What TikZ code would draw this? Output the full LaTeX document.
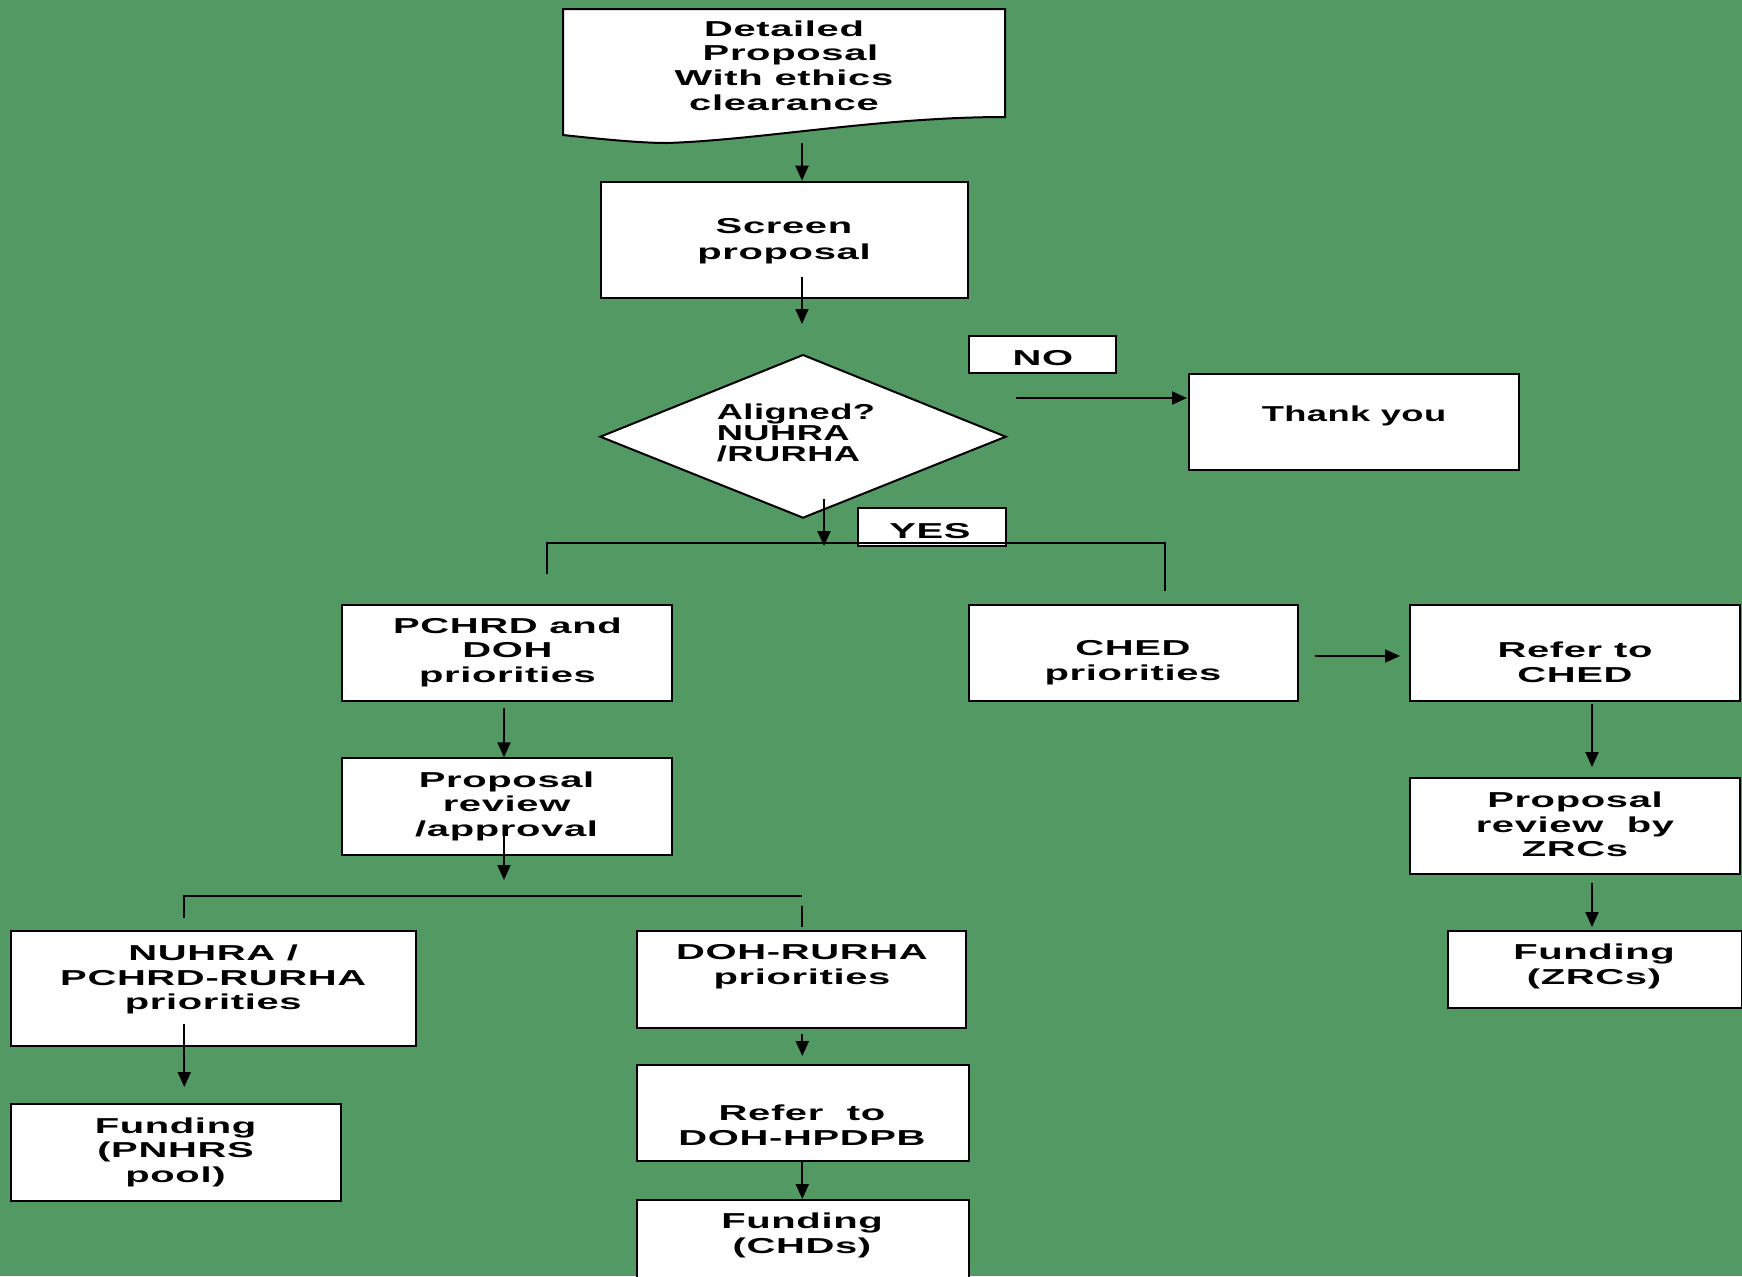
\documentclass[tikz,border=0pt]{standalone}
\usepackage{fontspec}
\setmainfont{Liberation Sans}[FakeStretch=1.85,LetterSpace=3]
\newfontfamily\diafont{Liberation Sans}[FakeStretch=1.68,LetterSpace=2]
\usetikzlibrary{arrows.meta,calc}
\definecolor{bggreen}{RGB}{82,153,99}
\begin{document}
\begin{tikzpicture}[x=0.5pt,y=-0.5pt,
  box/.style={draw=black, line width=1pt, fill=white, inner sep=0pt},
  wh/.style 2 args={minimum width=#1*0.5pt, minimum height=#2*0.5pt},
  txt/.style={font=\bfseries\fontsize{10.8}{12.3}\selectfont, align=center, inner sep=0pt, yshift=-1.2pt},
  narrowtxt/.style={font=\diafont\bfseries\fontsize{10.8}{10.5}\selectfont, inner sep=0pt},
  arr/.style={line width=1pt, -{Triangle[length=7.5pt,width=6.5pt]}},
  ln/.style={line width=1pt}]
\clip (0,0) rectangle (1742,1276);
\fill[bggreen] (0,0) rectangle (1742,1276);

% document shape
\draw[line width=1pt, fill=white] (563,9) -- (1005,9) -- (1005,117)
  .. controls (880,117) and (760,140) .. (667,143)
  .. controls (640,143) and (600,139) .. (563,135) -- cycle;
\node[txt] (detailT) at (784,63) {Detailed\\\hspace*{6.5pt}Proposal\\With ethics\\clearance};

% boxes
\node[box, wh={367}{116}] (screen) at (784.2,239.7) {};
\node[txt, font=\bfseries\fontsize{10.8}{13.2}\selectfont] (screenT) at (784,239) {Screen\\proposal};

\draw[line width=1pt, fill=white] (600.4,436.7) coordinate (dL) -- (803,355) coordinate (dT)
  -- (1005.7,436.7) coordinate (dR) -- (803,517.7) coordinate (dB) -- cycle;
\node[narrowtxt, align=left] (diaT) at (796,433) {Aligned?\\NUHRA\\/RURHA};

\node[box, wh={147}{37.6}] (no) at (1042.2,354.5) {};
\node[txt] (noT) at (1043,355.5) {NO};
\node[box, wh={330}{96}] (thank) at (1354,422) {};
\node[narrowtxt] (thankT) at (1354,416) {Thank you};
\node[box, wh={147.8}{37.7}] (yes) at (931.8,527.2) {};
\node[txt] (yesT) at (930,529) {YES};

\node[box, wh={330}{96.6}] (pchrd) at (507,653) {};
\node[txt] (pchrdT) at (507.5,650) {PCHRD and\\DOH\\priorities};
\node[box, wh={329}{96.6}] (ched) at (1133.2,653) {};
\node[txt] (chedT) at (1133,660) {CHED\\priorities};
\node[box, wh={329.7}{96.3}] (refched) at (1575.2,652.9) {};
\node[txt] (refchedT) at (1575,660) {Refer to\\CHED};

\node[box, wh={330}{96.7}] (review) at (507.3,806.7) {};
\node[txt] (reviewT) at (506.6,803.8) {Proposal\\review\\/approval};
\node[box, wh={329.7}{96.3}] (zrcrev) at (1575.2,825.9) {};
\node[txt] (zrcrevT) at (1575,822) {Proposal\\review~~by\\ZRCs};
\node[box, wh={294}{77}] (fundzrc) at (1594.7,969.2) {};
\node[txt] (fundzrcT) at (1594,964) {Funding\\(ZRCs)};

\node[box, wh={405}{115.3}] (nuhra) at (213.3,988.4) {};
\node[txt] (nuhraT) at (213.3,977) {NUHRA /\\PCHRD-RURHA\\priorities};
\node[box, wh={329.7}{97}] (doh) at (801.4,979.2) {};
\node[txt] (dohT) at (802,964.3) {DOH-RURHA\\priorities};
\node[box, wh={329.8}{97}] (pnhrs) at (175.7,1152.2) {};
\node[txt] (pnhrsT) at (175.5,1149.8) {Funding\\(PNHRS\\pool)};
\node[box, wh={332.2}{95.7}] (refdoh) at (802.6,1113.2) {};
\node[txt] (refdohT) at (802,1123) {Refer~~to\\DOH-HPDPB};
\node[box, wh={332.2}{100}] (chds) at (802.6,1250) {};
\node[txt] (chdsT) at (802,1233) {Funding\\(CHDs)};

% connectors
\coordinate (c1) at (802,143);
\draw[arr] (c1) -- (c1 |- screen.north);
\coordinate (c2a) at (802,276.7); \coordinate (c2b) at (802,324);
\draw[arr] (c2a) -- (c2b);
\coordinate (c3a) at (824,499); \coordinate (c3b) at (824,546);
\draw[arr] (c3a) -- (c3b);
\coordinate (no1) at (1016,398); \coordinate (no2) at (1187,398);
\draw[arr] (no1) -- (no2);
% yes branch
\coordinate (yl) at (546.7,574.3); \coordinate (yr) at (1165,590.7);
\draw[ln] (yl) -- (546.7,542.7) -- (1165,542.7) -- (yr);
\coordinate (ch1) at (1314.7,656); \coordinate (ch2) at (1400,656);
\draw[arr] (ch1) -- (ch2);
\coordinate (p1) at (504,707.7);
\draw[arr] (p1) -- (p1 |- review.north);
\coordinate (r1) at (504,835); \coordinate (r2) at (504,880);
\draw[arr] (r1) -- (r2);
% split
\coordinate (sl) at (184.3,918); \coordinate (sr) at (802.3,895.7);
\draw[ln] (sl) -- (184.3,895.7) -- (sr);
\draw[ln] (802.3,905.7) -- (802.3,927.3);
\coordinate (n1) at (184.3,1024); \coordinate (n2) at (184.3,1087);
\draw[arr] (n1) -- (n2);
\coordinate (dh1) at (802.3,1034); \coordinate (dh2) at (802.3,1056);
\draw[arr] (dh1) -- (dh2);
\coordinate (rd1) at (802.3,1162);
\draw[arr] (rd1) -- (rd1 |- chds.north);
\coordinate (rc1) at (1592,704.3); \coordinate (rc2) at (1592,767);
\draw[arr] (rc1) -- (rc2);
\coordinate (zr1) at (1592,883.3); \coordinate (zr2) at (1592,927);
\draw[arr] (zr1) -- (zr2);
\end{tikzpicture}
\end{document}
